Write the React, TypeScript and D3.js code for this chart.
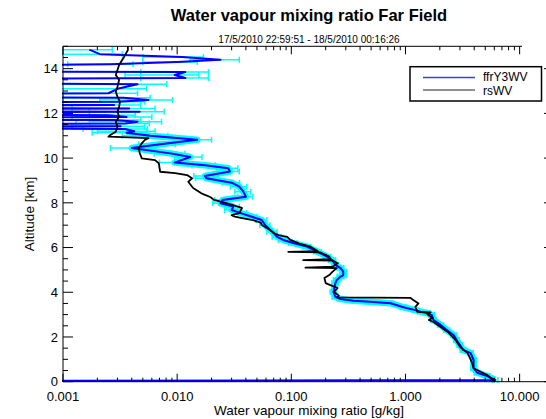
import React from 'react';
import * as d3 from 'd3';

const W = 546;
const H = 419;

// ffrY3WV lidar profile: [altitude km, mixing ratio g/kg, error g/kg]; 1e-7 = below axis
const ffrY3WV: [number, number, number][] = [
  [0.00, 1e-7, 0], [0.08, 6.1, 0.35], [0.25, 5.2, 0.3], [0.40, 4.25, 0.25], [0.61, 3.95, 0.22],
  [0.97, 3.95, 0.22], [1.28, 3.72, 0.2], [1.42, 3.2, 0.18], [1.64, 3.0, 0.17], [1.86, 2.8, 0.16],
  [2.08, 2.65, 0.15], [2.31, 2.3, 0.13], [2.54, 2.03, 0.12], [2.76, 1.76, 0.1], [2.98, 1.7, 0.1],
  [3.07, 1.54, 0.09], [3.13, 1.35, 0.08], [3.20, 1.22, 0.07], [3.33, 0.96, 0.06], [3.51, 0.74, 0.045],
  [3.58, 0.49, 0.03], [3.62, 0.35, 0.022], [3.70, 0.27, 0.017], [3.80, 0.243, 0.015], [4.02, 0.234, 0.015],
  [4.41, 0.243, 0.016], [4.55, 0.25, 0.016], [4.70, 0.27, 0.018], [4.77, 0.285, 0.019], [4.92, 0.285, 0.019],
  [5.08, 0.27, 0.018], [5.22, 0.243, 0.017], [5.44, 0.228, 0.016], [5.59, 0.205, 0.015], [5.81, 0.17, 0.013],
  [6.04, 0.137, 0.011], [6.20, 0.104, 0.009], [6.34, 0.085, 0.008], [6.48, 0.075, 0.007], [6.71, 0.068, 0.007],
  [7.00, 0.059, 0.006], [7.23, 0.055, 0.006], [7.38, 0.045, 0.005], [7.54, 0.036, 0.0045], [7.68, 0.030, 0.004],
  [7.83, 0.031, 0.004], [7.98, 0.024, 0.0035], [8.13, 0.025, 0.0037], [8.27, 0.040, 0.006], [8.50, 0.038, 0.006],
  [8.72, 0.035, 0.0058], [8.90, 0.030, 0.0052], [9.10, 0.018, 0.0035], [9.20, 0.0175, 0.0035], [9.40, 0.029, 0.006],
  [9.55, 0.028, 0.006], [9.68, 0.0175, 0.004], [9.80, 0.0095, 0.0025], [10.05, 0.013, 0.0035], [10.20, 0.009, 0.0027],
  [10.45, 0.0040, 0.0014], [10.62, 0.0071, 0.0025], [10.82, 0.015, 0.005], [11.00, 0.0058, 0.0025], [11.13, 0.0036, 0.0018],
  [11.20, 0.0042, 0.0022], [11.30, 0.0035, 0.002], [11.36, 1e-7, 0], [11.42, 0.0032, 0.002], [11.47, 1e-7, 0],
  [11.55, 0.0035, 0.0022], [11.63, 0.0045, 0.0028], [11.70, 0.0028, 0.002], [11.77, 1e-7, 0], [11.84, 0.0036, 0.0024],
  [11.92, 0.0025, 0.0018], [11.99, 1e-7, 0], [12.07, 0.0047, 0.003], [12.14, 1e-7, 0], [12.22, 0.0038, 0.0026],
  [12.29, 1e-7, 0], [12.37, 0.0028, 0.002], [12.44, 1e-7, 0], [12.52, 0.0030, 0.0022], [12.60, 0.0056, 0.0035],
  [12.70, 0.0034, 0.0024], [12.81, 1e-7, 0], [12.90, 0.0025, 0.002], [13.10, 0.0030, 0.0024], [13.30, 0.0045, 0.0036],
  [13.50, 1e-7, 0], [13.58, 0.0118, 0.007], [13.72, 0.0095, 0.006], [13.85, 0.0118, 0.007], [13.93, 1e-7, 0],
  [14.20, 0.0026, 0.0015], [14.30, 0.010, 0.005], [14.40, 0.024, 0.011], [14.52, 0.011, 0.006], [14.65, 0.0021, 0.0012],
  [14.85, 0.0017, 0.001],
];

// rsWV radiosonde profile: [altitude km, mixing ratio g/kg]
const rsWV: [number, number][] = [
  [0.00, 6.1], [0.30, 5.2], [0.60, 3.95], [0.80, 3.85], [1.00, 3.72], [1.28, 3.5], [1.56, 3.0], [1.86, 2.75],
  [2.20, 2.38], [2.45, 2.03], [2.67, 1.76], [2.76, 1.6], [2.85, 1.72], [3.00, 1.56], [3.10, 1.66], [3.12, 1.27],
  [3.35, 1.22], [3.50, 1.3], [3.65, 1.17], [3.75, 1.1], [3.77, 0.254], [3.85, 0.26], [4.02, 0.236], [4.19, 0.254],
  [4.32, 0.22], [4.41, 0.20], [4.64, 0.195], [4.77, 0.215], [4.92, 0.23], [5.08, 0.25], [5.10, 0.133], [5.14, 0.23],
  [5.30, 0.255], [5.42, 0.23], [5.44, 0.127], [5.48, 0.22], [5.60, 0.215], [5.78, 0.18], [5.81, 0.094], [5.84, 0.17],
  [6.04, 0.147], [6.16, 0.12], [6.34, 0.098], [6.48, 0.092], [6.56, 0.077], [6.65, 0.07], [6.71, 0.068], [6.87, 0.061],
  [7.01, 0.055], [7.11, 0.054], [7.23, 0.046], [7.32, 0.037], [7.38, 0.032], [7.45, 0.030], [7.54, 0.035], [7.77, 0.037],
  [7.83, 0.034], [7.99, 0.027], [8.05, 0.024], [8.13, 0.021], [8.26, 0.0195], [8.39, 0.0169], [8.43, 0.0163], [8.66, 0.0138],
  [8.94, 0.0125], [9.10, 0.0135], [9.24, 0.0122], [9.33, 0.0096], [9.39, 0.0071], [9.77, 0.0069], [9.91, 0.0064], [9.99, 0.0049],
  [10.23, 0.0047], [10.44, 0.0046], [10.66, 0.0049], [10.81, 0.0052], [10.89, 0.0056], [10.96, 0.0025], [11.03, 0.0026], [11.18, 0.0029],
  [11.40, 0.0030], [11.63, 0.0029], [11.85, 0.0031], [12.07, 0.0030], [12.30, 0.0031], [12.52, 0.00316], [12.75, 0.0030], [12.97, 0.0029],
  [13.19, 0.0030], [13.49, 0.0031], [13.72, 0.0029], [13.94, 0.0030], [14.16, 0.0031], [14.39, 0.0033], [14.61, 0.0035], [14.83, 0.0037],
  [15.00, 0.0037],
];

const xMajorTicks = [0.001, 0.01, 0.1, 1, 10];
const xTickLabels = ['0.001', '0.010', '0.100', '1.000', '10.000'];
const yMajorTicks = [0, 2, 4, 6, 8, 10, 12, 14];
const seriesNames = ['ffrY3WV', 'rsWV'];
const titleText = 'Water vapour mixing ratio Far Field';
const subtitleText = '17/5/2010 22:59:51 - 18/5/2010 00:16:26';
const xTitle = 'Water vapour mixing ratio [g/kg]';
const yTitle = 'Altitude [km]';

const FONT = '"Liberation Sans", Arial, Helvetica, sans-serif';

export default function App() {
  const left = 63, right = 554, top = 46.3, bottom = 381.7;
  const x = d3.scaleLog().domain([0.001, 20]).range([left, right]);
  const y = d3.scaleLinear().domain([0, 15]).range([bottom, top]);

  const xMinor: number[] = [];
  xMajorTicks.forEach((d) => {
    for (let m = 2; m <= 9; m++) if (d * m <= 20) xMinor.push(d * m);
  });
  const yMinor = d3.range(0, 15.01, 0.5).filter((v) => v % 2 !== 0);

  const blueLine = d3.line<[number, number, number]>().x((d) => x(d[1])).y((d) => y(d[0]));
  const haloLine = d3
    .line<[number, number, number]>()
    .defined((d) => d[1] > 1e-6 && d[0] <= 11.13)
    .x((d) => x(d[1]))
    .y((d) => y(d[0]));
  const blackLine = d3.line<[number, number]>().x((d) => x(d[1])).y((d) => y(d[0]));

  const xMajorLen = 8, xMinorLen = 4, yMajorLen = 10, yMinorLen = 5;

  return (
    <svg width={W} height={H} style={{ position: 'absolute', left: 0, top: 0, background: '#fff' }} fontFamily={FONT}>
      <defs>
        <clipPath id="plotClip">
          <rect x={left - 1} y={top - 2} width={right - left + 2} height={bottom - top + 4} />
        </clipPath>
      </defs>
      <rect x={0} y={0} width={W} height={H} fill="#fff" />

      <text x={309} y={21} textAnchor="middle" fontSize={16.5} fontWeight="bold">{titleText}</text>
      <text x={309} y={42.5} textAnchor="middle" fontSize={10}>{subtitleText}</text>

      <g clipPath="url(#plotClip)">
        <path d={haloLine(ffrY3WV) || ''} fill="none" stroke="#00ffff" strokeWidth={6.5} strokeLinejoin="round" />
        {ffrY3WV.filter((d) => d[2] > 0).map((d, i) => {
          const lo = Math.max(d[1] - d[2], 1e-7);
          const hi = d[1] + d[2];
          const yy = y(d[0]);
          return (
            <g key={i} stroke="#00ffff" strokeWidth={1.5}>
              <line x1={x(lo)} x2={x(hi)} y1={yy} y2={yy} />
              <line x1={x(lo)} x2={x(lo)} y1={yy - 3} y2={yy + 3} />
              <line x1={x(hi)} x2={x(hi)} y1={yy - 3} y2={yy + 3} />
            </g>
          );
        })}
        <path d={blueLine(ffrY3WV) || ''} fill="none" stroke="#0000ff" strokeWidth={2} strokeLinejoin="round" />
        <path d={blackLine(rsWV) || ''} fill="none" stroke="#000" strokeWidth={1.8} strokeLinejoin="round" />
      </g>

      {/* axes */}
      <g stroke="#000" strokeWidth={1} fill="none">
        <line x1={left} x2={left} y1={top} y2={bottom} />
        <line x1={right} x2={right} y1={top} y2={bottom} />
        <line x1={left} x2={right} y1={bottom} y2={bottom} />
        <line x1={left} x2={522} y1={top} y2={top} />
        {xMajorTicks.map((t) => (
          <g key={'xm' + t}>
            <line x1={x(t)} x2={x(t)} y1={bottom} y2={bottom - xMajorLen} />
            <line x1={x(t)} x2={x(t)} y1={top} y2={top + xMajorLen} />
          </g>
        ))}
        {xMinor.map((t) => (
          <g key={'xn' + t}>
            <line x1={x(t)} x2={x(t)} y1={bottom} y2={bottom - xMinorLen} />
            <line x1={x(t)} x2={x(t)} y1={top} y2={top + xMinorLen} />
          </g>
        ))}
        {yMajorTicks.map((t) => (
          <g key={'ym' + t}>
            <line x1={left} x2={left + yMajorLen} y1={y(t)} y2={y(t)} />
            <line x1={right} x2={right - yMajorLen} y1={y(t)} y2={y(t)} />
          </g>
        ))}
        {yMinor.map((t) => (
          <g key={'yn' + t}>
            <line x1={left} x2={left + yMinorLen} y1={y(t)} y2={y(t)} />
            <line x1={right} x2={right - yMinorLen} y1={y(t)} y2={y(t)} />
          </g>
        ))}
      </g>

      {xMajorTicks.map((t, i) => (
        <text key={'xl' + t} x={x(t)} y={400.5} textAnchor="middle" fontSize={13}>{xTickLabels[i]}</text>
      ))}
      {yMajorTicks.map((t) => (
        <text key={'yl' + t} x={58} y={y(t)} dy="0.36em" textAnchor="end" fontSize={13}>{t}</text>
      ))}
      <text x={309} y={415} textAnchor="middle" fontSize={13.5}>{xTitle}</text>
      <text transform="translate(34,214) rotate(-90)" textAnchor="middle" fontSize={13.5}>{yTitle}</text>

      {/* legend */}
      <rect x={410} y={66.7} width={131.5} height={34.3} fill="#fff" stroke="#000" strokeWidth={1.5} />
      <line x1={423} x2={475} y1={77.5} y2={77.5} stroke="#3a3aff" strokeWidth={1.3} />
      <line x1={423} x2={475} y1={90} y2={90} stroke="#222" strokeWidth={1.1} />
      <text x={483} y={81.3} fontSize={12}>{seriesNames[0]}</text>
      <text x={483} y={95} fontSize={12}>{seriesNames[1]}</text>
    </svg>
  );
}
